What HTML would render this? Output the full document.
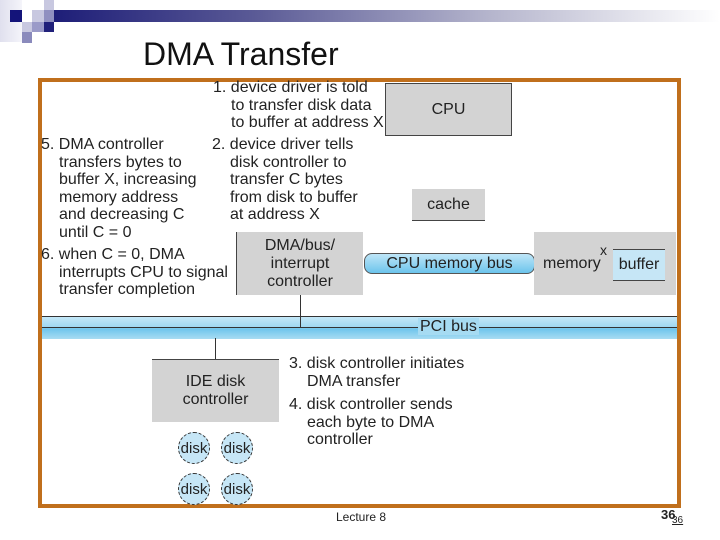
<!DOCTYPE html>
<html><head><meta charset="utf-8"><style>
body{margin:0;width:720px;height:540px;background:#fff;position:relative;overflow:hidden;font-family:"Liberation Sans",sans-serif;color:#222}
div{position:absolute}
.t{font-size:16px;line-height:17.5px;white-space:pre}
.box{background:#d3d3d3;text-align:center;font-size:16px;line-height:18px}
.disk{width:32px;height:32px;border-radius:50%;border:1px dashed #333;background:#c6e6f6;font-size:15px;line-height:32px;text-align:center;box-sizing:border-box}
</style></head><body>
<div style="left:54px;top:10px;width:666px;height:12px;background:linear-gradient(90deg,#1e1e78,#5a5a96 30%,#b4b4cc 65%,#fff)"></div>
<div style="left:0;top:0;width:22px;height:42px;background:linear-gradient(90deg,#e0e0ee,#f4f4fa)"></div>
<div style="left:10px;top:10px;width:12px;height:12px;background:#14147a"></div>
<div style="left:32px;top:10px;width:12px;height:12px;background:#c8c8e0"></div>
<div style="left:44px;top:0;width:10px;height:10px;background:#c8c8e0"></div>
<div style="left:44px;top:10px;width:10px;height:12px;background:#9090c0"></div>
<div style="left:22px;top:22px;width:10px;height:10px;background:#c8c8e0"></div>
<div style="left:32px;top:22px;width:12px;height:10px;background:#9a9ac8"></div>
<div style="left:44px;top:22px;width:10px;height:10px;background:#20207a"></div>
<div style="left:22px;top:32px;width:10px;height:11px;background:#8a8abc"></div>
<div style="left:143px;top:36px;font-size:32px;color:#111">DMA Transfer</div>
<div style="left:38px;top:78px;width:635px;height:422px;border:4px solid #c06f1c"></div>

<div class="t" style="left:213px;top:79px">1. device driver is told</div>
<div class="t" style="left:231px;top:96.5px">to transfer disk data
to buffer at address X</div>
<div class="box" style="left:385px;top:83px;width:127px;height:53px;border:1px solid #444;line-height:52px;box-sizing:border-box">CPU</div>
<div class="t" style="left:41px;top:136px">5. DMA controller</div>
<div class="t" style="left:59px;top:153.5px">transfers bytes to
buffer X, increasing
memory address
and decreasing C
until C = 0</div>
<div class="t" style="left:212px;top:136px">2. device driver tells</div>
<div class="t" style="left:230px;top:153.5px">disk controller to
transfer C bytes
from disk to buffer
at address X</div>
<div class="t" style="left:41px;top:246px">6. when C = 0, DMA</div>
<div class="t" style="left:59px;top:263.5px">interrupts CPU to signal
transfer completion</div>
<div class="box" style="left:412px;top:189px;width:73px;height:31px;border-bottom:1px solid #444;line-height:31px">cache</div>
<div class="box" style="left:236px;top:232px;width:127px;height:63px;border-left:1px solid #444;padding-top:5px;box-sizing:border-box">DMA/bus/<br>interrupt<br>controller</div>
<div style="left:364px;top:253px;width:171px;height:21px;border:1px solid #555;border-radius:8px;background:linear-gradient(#bfe6f8,#6cc4ec);box-sizing:border-box;font-size:16px;line-height:19px;text-align:center">CPU memory bus</div>
<div class="box" style="left:534px;top:232px;width:142px;height:63px"></div>
<div class="t" style="left:543px;top:255px">memory</div>
<div class="t" style="left:600px;top:242px;font-size:14px">x</div>
<div style="left:613px;top:249px;width:52px;height:30px;background:#c6e6f6;border-top:1px solid #444;border-bottom:1px solid #444;font-size:16px;line-height:30px;text-align:center">buffer</div>
<div style="left:42px;top:316px;width:635px;height:22px;background:linear-gradient(#c4e8f8,#9cd6f0 50%,#6cc4ec 52%,#a8dcf2);border-top:1px solid #333"></div>
<div style="left:42px;top:327px;width:635px;height:1px;background:#333"></div>
<div style="left:418px;top:318px;background:#a6dbf2;font-size:16px;line-height:17px;padding:0 2px">PCI bus</div>
<div style="left:300px;top:295px;width:1px;height:32px;background:#333"></div>
<div style="left:215px;top:338px;width:1px;height:22px;background:#333"></div>
<div class="box" style="left:152px;top:359px;width:127px;height:63px;border-top:1px solid #444;padding-top:13px;box-sizing:border-box">IDE disk<br>controller</div>
<div class="t" style="left:289px;top:355px">3. disk controller initiates</div>
<div class="t" style="left:307px;top:372.5px">DMA transfer</div>
<div class="t" style="left:289px;top:396px">4. disk controller sends</div>
<div class="t" style="left:307px;top:413.5px">each byte to DMA
controller</div>
<div class="disk" style="left:178px;top:432px">disk</div>
<div class="disk" style="left:221px;top:432px">disk</div>
<div class="disk" style="left:178px;top:473px">disk</div>
<div class="disk" style="left:221px;top:473px">disk</div>
<div style="left:336px;top:510px;font-size:12px">Lecture 8</div>
<div style="left:661px;top:507px;font-size:13px;font-weight:bold">36</div>
<div style="left:672px;top:515px;font-size:10px;text-decoration:underline">36</div>
</body></html>
